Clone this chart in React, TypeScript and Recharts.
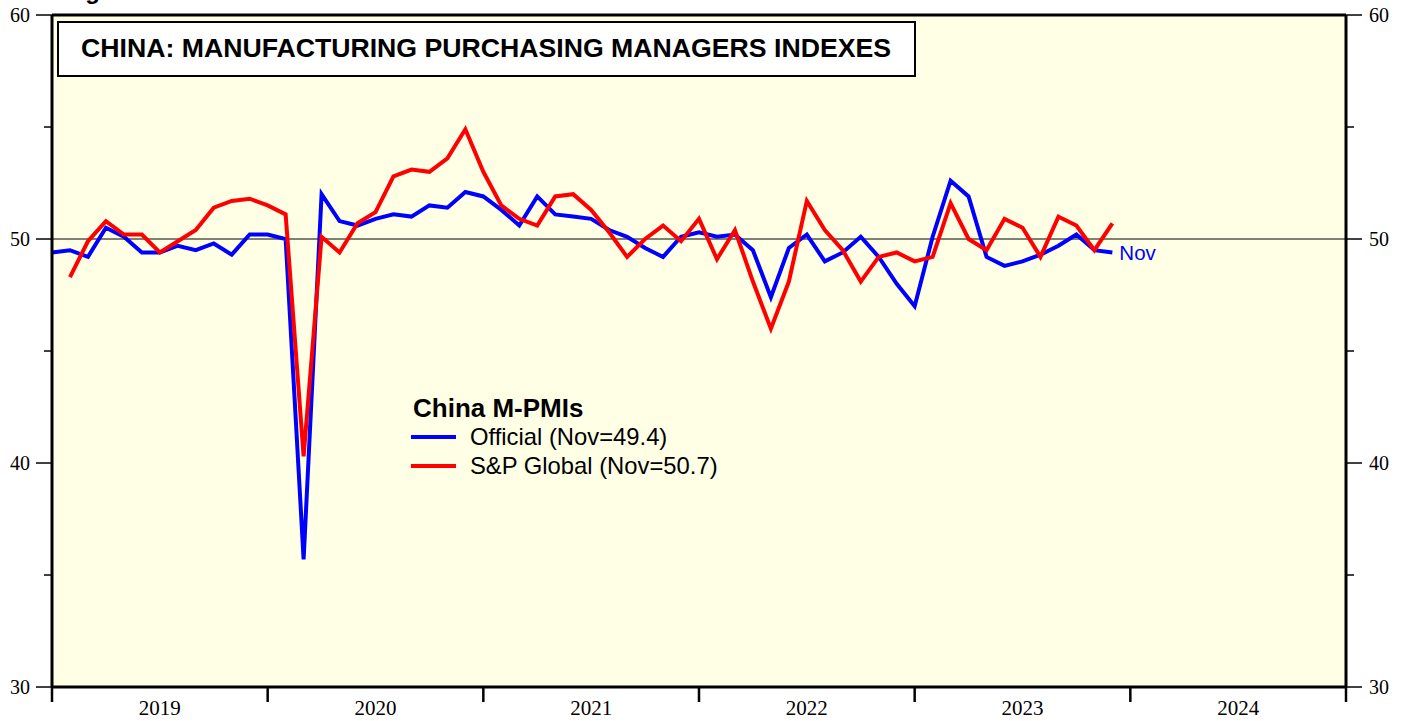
import React from "react";
import {
  CartesianGrid,
  Line,
  LineChart,
  ReferenceLine,
  XAxis,
  YAxis,
} from "recharts";

// months counted from Dec 2018 (0) ; Jan 2019 = 1 ... Dec 2024 = 72
const yearLabels = ["2019", "2020", "2021", "2022", "2023", "2024"];

// Official (NBS) manufacturing PMI, Dec 2018 .. Nov 2023
const officialValues = [
  49.4,
  49.5, 49.2, 50.5, 50.1, 49.4, 49.4, 49.7, 49.5, 49.8, 49.3, 50.2, 50.2,
  50.0, 35.7, 52.0, 50.8, 50.6, 50.9, 51.1, 51.0, 51.5, 51.4, 52.1, 51.9,
  51.3, 50.6, 51.9, 51.1, 51.0, 50.9, 50.4, 50.1, 49.6, 49.2, 50.1, 50.3,
  50.1, 50.2, 49.5, 47.4, 49.6, 50.2, 49.0, 49.4, 50.1, 49.2, 48.0, 47.0,
  50.1, 52.6, 51.9, 49.2, 48.8, 49.0, 49.3, 49.7, 50.2, 49.5, 49.4,
];

// S&P Global manufacturing PMI, Jan 2019 .. Nov 2023
const spGlobalValues = [
  48.3, 49.9, 50.8, 50.2, 50.2, 49.4, 49.9, 50.4, 51.4, 51.7, 51.8, 51.5,
  51.1, 40.3, 50.1, 49.4, 50.7, 51.2, 52.8, 53.1, 53.0, 53.6, 54.9, 53.0,
  51.5, 50.9, 50.6, 51.9, 52.0, 51.3, 50.3, 49.2, 50.0, 50.6, 49.9, 50.9,
  49.1, 50.4, 48.1, 46.0, 48.1, 51.7, 50.4, 49.5, 48.1, 49.2, 49.4, 49.0,
  49.2, 51.6, 50.0, 49.5, 50.9, 50.5, 49.2, 51.0, 50.6, 49.5, 50.7,
];

const yTicks = [30, 35, 40, 45, 50, 55, 60];
const xTicks = [0, 6, 12, 18, 24, 30, 36, 42, 48, 54, 60, 66, 72];

const data = officialValues.map((v, i) => ({
  m: i,
  official: v,
  sp: i === 0 ? null : spGlobalValues[i - 1],
}));

const W = 1408;
const H = 721;
const serif = "'Liberation Serif', 'Times New Roman', serif";
const sans = "'Liberation Sans', Arial, sans-serif";

const LeftTick = ({ x, y, payload }: any) => {
  const major = payload.value % 10 === 0;
  return (
    <g>
      <line x1={x - (major ? 16 : 8)} x2={x} y1={y} y2={y} stroke="#000" strokeWidth={1.5} />
      {major && (
        <text x={x - 22} y={y} dy="0.35em" textAnchor="end" fontFamily={serif} fontSize={20} fill="#000">
          {payload.value}
        </text>
      )}
    </g>
  );
};

const RightTick = ({ x, y, payload }: any) => {
  const major = payload.value % 10 === 0;
  return (
    <g>
      <line x1={x} x2={x + (major ? 16 : 8)} y1={y} y2={y} stroke="#000" strokeWidth={1.5} />
      {major && (
        <text x={x + 23} y={y} dy="0.35em" textAnchor="start" fontFamily={serif} fontSize={20} fill="#000">
          {payload.value}
        </text>
      )}
    </g>
  );
};

const YearTick = ({ x, y, payload }: any) => {
  const v = payload.value;
  if (v % 12 === 0) {
    return <line x1={x} x2={x} y1={y} y2={y + 15} stroke="#000" strokeWidth={2.5} />;
  }
  return (
    <text x={x} y={y + 28} textAnchor="middle" fontFamily={serif} fontSize={21} fill="#000">
      {yearLabels[Math.floor(v / 12)]}
    </text>
  );
};

const renderNov = (props: any) => {
  if (props.index !== officialValues.length - 1) return null;
  return (
    <text x={props.x + 7} y={props.y} dy="0.36em" fontFamily={sans} fontSize={20.5} fill="#0000ff">
      Nov
    </text>
  );
};

export default function App() {
  return (
    <div style={{ position: "absolute", left: 0, top: 0, width: W, height: H, background: "#fff" }}>
      <LineChart width={W} height={H} data={data} margin={{ top: 14, right: 0, bottom: 0, left: 0 }}>
        <CartesianGrid yAxisId="left" horizontal={false} vertical={false} fill="#ffffe6" />
        <XAxis
          dataKey="m"
          type="number"
          domain={[0, 72]}
          ticks={xTicks}
          interval={0}
          height={34}
          tickSize={0}
          tickMargin={0}
          tickLine={false}
          tick={<YearTick />}
          axisLine={{ stroke: "#000", strokeWidth: 3 }}
        />
        <XAxis
          xAxisId="top"
          orientation="top"
          dataKey="m"
          type="number"
          domain={[0, 72]}
          height={1}
          tick={false}
          tickLine={false}
          axisLine={{ stroke: "#000", strokeWidth: 3 }}
        />
        <YAxis
          yAxisId="left"
          domain={[30, 60]}
          ticks={yTicks}
          interval={0}
          width={52}
          tickSize={0}
          tickMargin={0}
          tickLine={false}
          tick={<LeftTick />}
          axisLine={{ stroke: "#000", strokeWidth: 3 }}
        />
        <YAxis
          yAxisId="right"
          orientation="right"
          domain={[30, 60]}
          ticks={yTicks}
          interval={0}
          width={62}
          tickSize={0}
          tickMargin={0}
          tickLine={false}
          tick={<RightTick />}
          axisLine={{ stroke: "#000", strokeWidth: 3 }}
        />
        <ReferenceLine yAxisId="left" y={50} stroke="#000" strokeWidth={1} />
        <Line
          yAxisId="left"
          type="linear"
          dataKey="official"
          stroke="#0000ff"
          strokeWidth={4}
          dot={false}
          isAnimationActive={false}
          label={renderNov}
        />
        <Line
          yAxisId="right"
          type="linear"
          dataKey="sp"
          stroke="#ff0000"
          strokeWidth={4}
          dot={false}
          connectNulls={false}
          isAnimationActive={false}
        />
      </LineChart>
      <svg width={W} height={H} style={{ position: "absolute", left: 0, top: 0, pointerEvents: "none" }}>
        <text x={64} y={-1} fontFamily={sans} fontWeight="bold" fontSize={24} fill="#000">
          Figure 1
        </text>
        <rect x={58} y={22} width={857} height={54} fill="#fff" stroke="#000" strokeWidth={2} />
        <text
          x={81}
          y={57}
          fontFamily={sans}
          fontWeight="bold"
          fontSize={26}
          textLength={810}
          lengthAdjust="spacingAndGlyphs"
          fill="#000"
        >
          CHINA: MANUFACTURING PURCHASING MANAGERS INDEXES
        </text>
        <text x={413} y={417} fontFamily={sans} fontWeight="bold" fontSize={26} fill="#000">
          China M-PMIs
        </text>
        <line x1={411} x2={456} y1={437} y2={437} stroke="#0000ff" strokeWidth={4} />
        <text x={470} y={445} fontFamily={sans} fontSize={23.8} fill="#000">
          Official (Nov=49.4)
        </text>
        <line x1={411} x2={456} y1={466} y2={466} stroke="#ff0000" strokeWidth={4} />
        <text x={470} y={474} fontFamily={sans} fontSize={23.8} fill="#000">
          S&amp;P Global (Nov=50.7)
        </text>
      </svg>
    </div>
  );
}
